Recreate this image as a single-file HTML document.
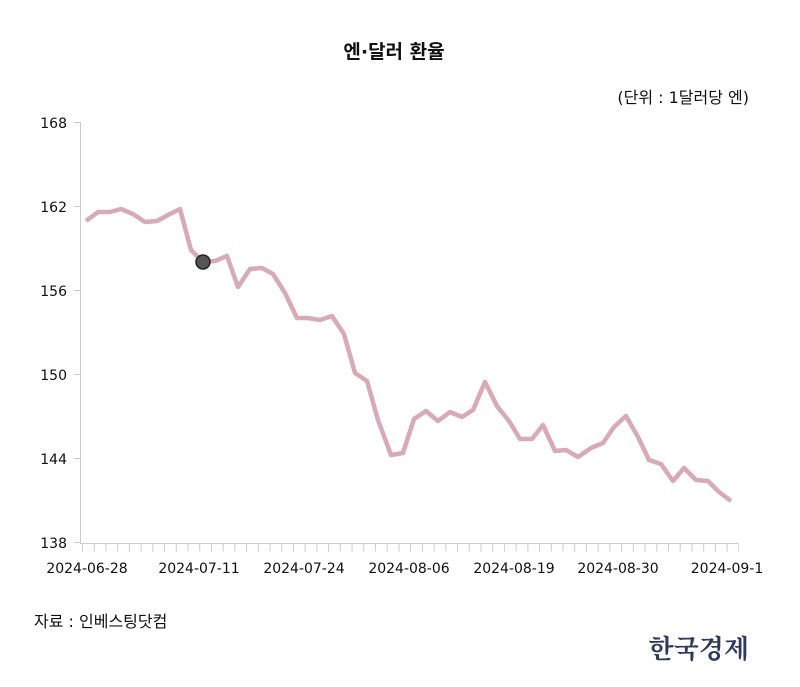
<!DOCTYPE html>
<html><head><meta charset="utf-8"><style>
body{margin:0;background:#fff;width:800px;height:682px;overflow:hidden}
</style></head><body>
<svg width="800" height="682" viewBox="0 0 800 682" xmlns="http://www.w3.org/2000/svg" font-family="DejaVu Sans, Noto Sans CJK KR, sans-serif">
<text x="394" y="58" text-anchor="middle" font-size="19" font-weight="bold" fill="#111">엔·달러 환율</text>
<text x="749" y="103" text-anchor="end" font-size="16" fill="#111">(단위 : 1달러당 엔)</text>
<line x1="80.5" y1="122" x2="80.5" y2="543" stroke="#ccc" stroke-width="1"/>
<line x1="80" y1="543.5" x2="738" y2="543.5" stroke="#ccc" stroke-width="1"/>
<line x1="82" y1="547.5" x2="739" y2="547.5" stroke="#ccc" stroke-width="8" stroke-dasharray="1 10.72"/>
<g stroke="#ccc"><line x1="74" x2="80" y1="122.5" y2="122.5"/><line x1="74" x2="80" y1="206.5" y2="206.5"/><line x1="74" x2="80" y1="290.5" y2="290.5"/><line x1="74" x2="80" y1="374.5" y2="374.5"/><line x1="74" x2="80" y1="458.5" y2="458.5"/><line x1="74" x2="80" y1="542.5" y2="542.5"/></g>
<g font-size="14" fill="#111" text-anchor="end">
<text x="67" y="128">168</text><text x="67" y="212">162</text><text x="67" y="296">156</text><text x="67" y="380">150</text><text x="67" y="464">144</text><text x="67" y="548">138</text>
</g>
<g font-size="14" fill="#111" text-anchor="middle">
<text x="87" y="573">2024-06-28</text><text x="199" y="573">2024-07-11</text><text x="304" y="573">2024-07-24</text><text x="409" y="573">2024-08-06</text><text x="514" y="573">2024-08-19</text><text x="618" y="573">2024-08-30</text><text x="727" y="573">2024-09-1</text>
</g>
<polyline fill="none" stroke="#d8a9b6" stroke-width="4.5" stroke-linejoin="round" points="86,221 98,212 110,212 121,209 133,214 145,222 157,221 168,215 180,209 191,250 203,262 215,261 227,256 238,287 250,269 262,268 273,274 285,293 297,318 308,318 320,320 332,316 344,334 355,373 367,381 378,420 391,455 403,453 414,419 426,411 438,421 450,412 462,417 473,410 485,382 497,406 509,421 520,439 532,439 543,425 555,451 566,450 578,457 591,448 603,443 614,427 626,416 638,437 649,460 661,464 673,481 684,468 696,480 708,481 719,492 731,501"/>
<circle cx="203" cy="262" r="7" fill="#555" stroke="#222" stroke-width="1.5"/>
<text x="34" y="627" font-size="16" fill="#111">자료 : 인베스팅닷컴</text>
<text x="749" y="658" text-anchor="end" font-size="26" font-weight="bold" fill="#2d3a5c" font-family="Noto Serif CJK SC, serif">한국경제</text>
</svg>
</body></html>
